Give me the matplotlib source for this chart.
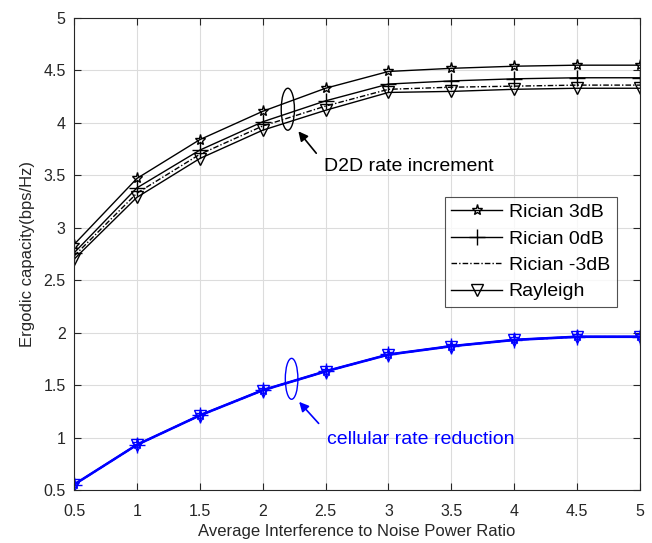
import matplotlib
matplotlib.use('Agg')
import matplotlib.pyplot as plt
from matplotlib.patches import Ellipse

plt.rcParams['font.family'] = ['Liberation Sans', 'DejaVu Sans']

inr = [0.5, 1, 1.5, 2, 2.5, 3, 3.5, 4, 4.5, 5]

# D2D ergodic capacity
d2d_rician3 = [2.84, 3.47, 3.84, 4.11, 4.33, 4.49, 4.52, 4.54, 4.55, 4.55]
d2d_rician0 = [2.76, 3.38, 3.74, 4.01, 4.21, 4.37, 4.40, 4.42, 4.43, 4.43]
d2d_rician_m3 = [2.73, 3.33, 3.70, 3.97, 4.16, 4.32, 4.34, 4.35, 4.36, 4.36]
d2d_rayleigh = [2.70, 3.29, 3.66, 3.93, 4.12, 4.29, 4.30, 4.32, 4.33, 4.33]

# cellular ergodic capacity
cell_rician3 = [0.555, 0.935, 1.215, 1.455, 1.635, 1.795, 1.875, 1.935, 1.965, 1.965]
cell_rician0 = [0.552, 0.932, 1.212, 1.452, 1.632, 1.792, 1.872, 1.932, 1.962, 1.962]
cell_rician_m3 = [0.550, 0.930, 1.210, 1.450, 1.630, 1.790, 1.870, 1.930, 1.960, 1.960]
cell_rayleigh = [0.547, 0.927, 1.207, 1.447, 1.627, 1.787, 1.867, 1.927, 1.957, 1.957]

labels = ['Rician 3dB', 'Rician 0dB', 'Rician -3dB', 'Rayleigh']

fig = plt.figure(figsize=(6.52, 5.43), dpi=100)
ax = fig.add_axes([0.1135, 0.0976, 0.8681, 0.8693])

styles = [
    dict(marker='*', linestyle='-', markersize=8),
    dict(marker='+', linestyle='-', markersize=11),
    dict(marker='None', linestyle=(0, (4, 1.5, 1, 1.5))),
    dict(marker='v', linestyle='-', markersize=8),
]

d2d = [d2d_rician3, d2d_rician0, d2d_rician_m3, d2d_rayleigh]
cell = [cell_rician3, cell_rician0, cell_rician_m3, cell_rayleigh]

for ys, lab, st in zip(d2d, labels, styles):
    ax.plot(inr, ys, color='black', linewidth=1.0, markerfacecolor='none',
            markeredgewidth=1.0, label=lab, **st)
for ys, st in zip(cell, styles):
    ax.plot(inr, ys, color='blue', linewidth=1.3, markerfacecolor='none',
            markeredgewidth=1.0, **st)

ax.set_xlim(0.5, 5)
ax.set_ylim(0.5, 5)
ax.set_xticks(inr)
ax.set_xticklabels(['0.5', '1', '1.5', '2', '2.5', '3', '3.5', '4', '4.5', '5'])
ax.set_yticks([0.5, 1, 1.5, 2, 2.5, 3, 3.5, 4, 4.5, 5])
ax.set_yticklabels(['0.5', '1', '1.5', '2', '2.5', '3', '3.5', '4', '4.5', '5'])
ax.grid(True, color='#dcdcdc', linewidth=0.8)
ax.set_axisbelow(True)
ax.tick_params(direction='in', top=True, right=True, labelsize=11.5,
               colors='#262626', length=5)
ax.tick_params(axis='x', pad=10)
ax.tick_params(axis='y', pad=6)
for s in ax.spines.values():
    s.set_color('#262626')
    s.set_linewidth(0.8)

ax.set_xlabel('Average Interference to Noise Power Ratio', fontsize=12,
              color='#262626', labelpad=4)
ax.set_ylabel('Ergodic capacity(bps/Hz)', fontsize=12, color='#262626',
              labelpad=6)

# annotations
ax.add_patch(Ellipse((2.2, 4.13), 0.105, 0.40, fill=False, edgecolor='black',
                     linewidth=1.0))
ax.annotate('', xy=(2.27, 3.94), xytext=(2.44, 3.69),
            arrowprops=dict(arrowstyle='-|>', color='black', lw=1.2,
                            mutation_scale=14))
ax.text(2.49, 3.58, 'D2D rate increment', fontsize=14, va='center',
        ha='left', color='black')

ax.add_patch(Ellipse((2.23, 1.56), 0.10, 0.39, fill=False, edgecolor='blue',
                     linewidth=1.0))
ax.annotate('', xy=(2.275, 1.36), xytext=(2.46, 1.115),
            arrowprops=dict(arrowstyle='-|>', color='blue', lw=1.2,
                            mutation_scale=14))
ax.text(2.515, 0.98, 'cellular rate reduction', fontsize=14, va='center',
        ha='left', color='blue')

leg = ax.legend(loc='upper right', bbox_to_anchor=(0.959, 0.621),
                fontsize=14, fancybox=False, edgecolor='#262626',
                handlelength=2.6, borderpad=0.35, labelspacing=0.45,
                handletextpad=0.35, borderaxespad=0)
leg.get_frame().set_linewidth(0.8)

fig.savefig('out.png', dpi=100)
